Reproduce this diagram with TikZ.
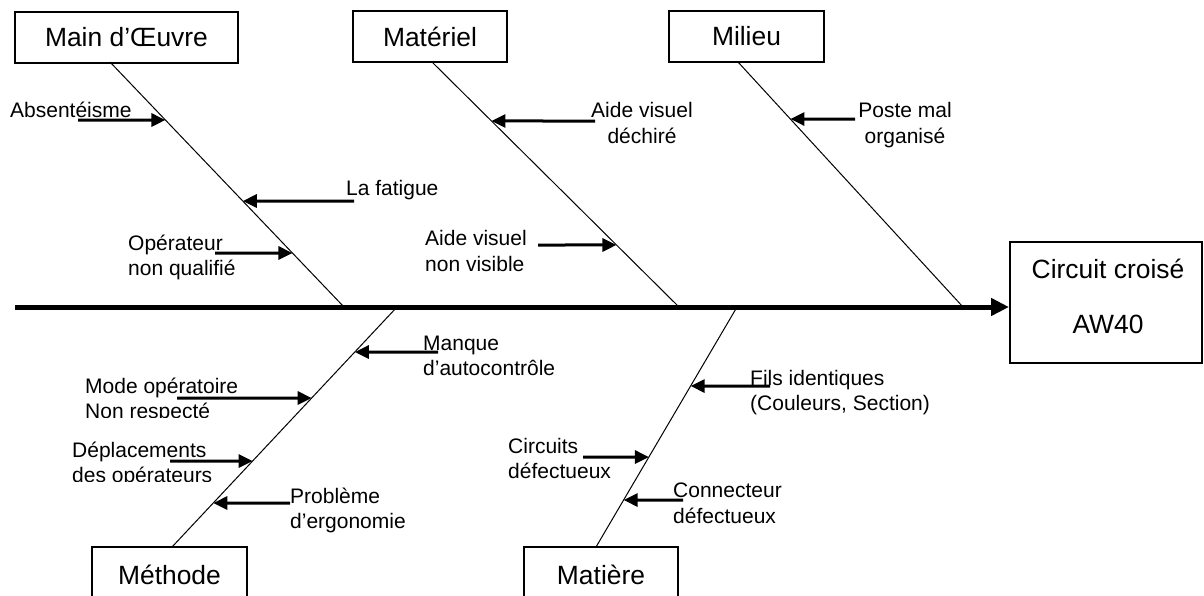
\documentclass[tikz,border=0pt]{standalone}
\usepackage{fontspec}
\setmainfont{Liberation Sans}
\usetikzlibrary{arrows.meta}
\newcommand\smf{\fontsize{21}{25.5}\selectfont}
\newcommand\bigf{\fontsize{26.4}{30}\selectfont}
\newcommand\bonecause[4]{%
  \coordinate (#4s) at (#2,#3);
  \coordinate (#4e) at (intersection of #1a--#1b and 0,#3--10,#3);
  \draw[causearrow] (#4s) -- (#4e);}
\tikzset{
  box/.style={draw, line width=2pt, inner sep=0pt, minimum height=51pt, font=\bigf},
  bone/.style={line width=1pt},
  spine/.style={line width=5pt, -{Triangle[length=18pt,width=17pt]}},
  causearrow/.style={line width=3pt, -{Triangle[length=14pt,width=13pt]}},
  lbl/.style={inner sep=0pt, font=\smf, align=left, anchor=base west},
  clbl/.style={inner sep=0pt, font=\smf, align=center, anchor=base},
}
\begin{document}
\begin{tikzpicture}[x=1pt,y=-1pt]
\useasboundingbox (0,0) rectangle (1204,595);
% boxes
\node[box, minimum width=223pt] (mo) at (126.5,37.5) {Main d’Œuvre};
\node[box, minimum width=154pt] (mt) at (430,36.5) {Matériel};
\node[box, minimum width=155pt] (mi) at (746.5,36.5) {Milieu};
\node[box, minimum width=192pt, minimum height=121pt] (cb) at (1106,302.5) {};
\node[inner sep=0pt, font=\fontsize{26.4}{55}\selectfont, align=center] (cbt) at (1108,296) {Circuit croisé\\AW40};
\node[box, minimum width=155pt, minimum height=62pt] (me) at (169.5,578) {};
\node[inner sep=0pt, font=\bigf] (met) at (169.5,575) {Méthode};
\node[box, minimum width=154pt, minimum height=62pt] (ma) at (601,578) {};
\node[inner sep=0pt, font=\bigf] (mat) at (601,575) {Matière};
% spine
\coordinate (sp) at (15,307);
\draw[spine] (sp) -- (cb.west |- sp);
% bones
\coordinate (moa) at (110,62);  \coordinate (mob) at (344,307);
\coordinate (mta) at (432,62);  \coordinate (mtb) at (679,307);
\coordinate (mia) at (738,62);  \coordinate (mib) at (963,307);
\coordinate (mea) at (397,307); \coordinate (meb) at (172,547);
\coordinate (maa) at (737,307); \coordinate (mab) at (596,547);
\draw[bone] (moa) -- (mob);
\draw[bone] (mta) -- (mtb);
\draw[bone] (mia) -- (mib);
\draw[bone] (mea) -- (meb);
\draw[bone] (maa) -- (mab);
% labels (base anchor = baseline of the last line)
\node[lbl] (l1) at (10,117) {Absentéisme};
\node[lbl] (l2) at (346,195) {La fatigue};
\node[lbl] (l3) at (128,275.5) {Opérateur\\non qualifié};
\node[clbl] (l4) at (642,143) {Aide visuel\\déchiré};
\node[lbl] (l5) at (425,271) {Aide visuel\\non visible};
\node[clbl] (l6) at (905,143) {Poste mal\\organisé};
\node[lbl] (l7) at (423,375.5) {Manque\\d’autocontrôle};
\begin{scope}
\clip (60,370) rectangle (330,417);
\node[lbl] (l8) at (85,418.5) {Mode opératoire\\Non respecté};
\end{scope}
\begin{scope}
\clip (60,430) rectangle (330,481);
\node[lbl] (l9) at (72,482.5) {Déplacements\\des opérateurs};
\end{scope}
\node[lbl] (l10) at (290,528.5) {Problème\\d’ergonomie};
\node[lbl] (l11) at (750,410.5) {Fils identiques\\(Couleurs, Section)};
\node[lbl] (l12) at (508,478.5) {Circuits\\défectueux};
\node[lbl] (l13) at (673,523) {Connecteur\\défectueux};
% cause arrows
\bonecause{mo}{78}{120}{c1}
\bonecause{mo}{354}{201}{c2}
\bonecause{mo}{215}{253}{c3}
\bonecause{mt}{595}{121}{c4}
\bonecause{mt}{538}{245}{c5}
\bonecause{mi}{855}{119}{c6}
\bonecause{me}{438}{352}{c7}
\bonecause{me}{177}{398}{c8}
\bonecause{me}{170}{461}{c9}
\bonecause{me}{290}{503}{c10}
\bonecause{ma}{770}{386}{c11}
\bonecause{ma}{583}{457}{c12}
\bonecause{ma}{683}{500}{c13}
\end{tikzpicture}
\end{document}
